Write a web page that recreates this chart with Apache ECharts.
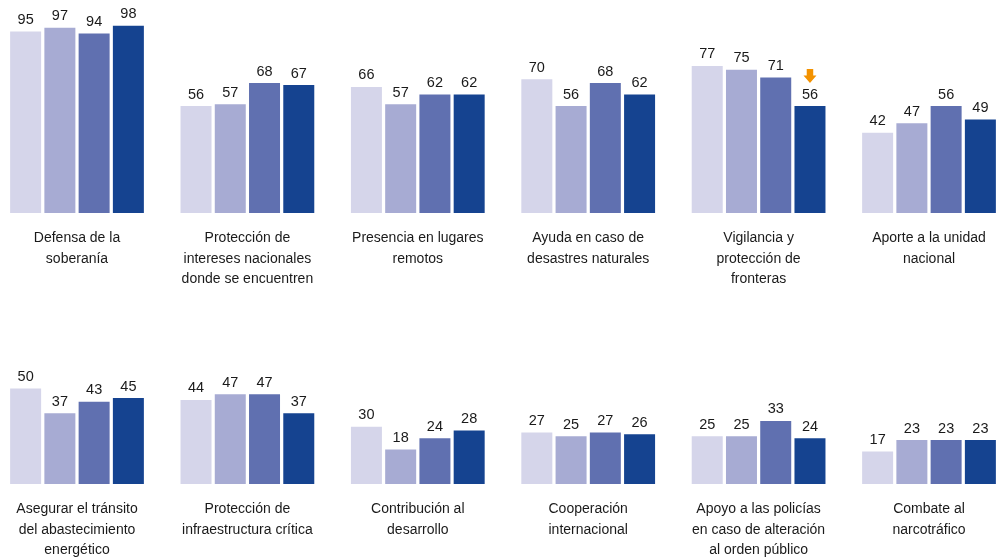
<!DOCTYPE html>
<html>
<head>
<meta charset="utf-8">
<script src="https://cdn.jsdelivr.net/npm/echarts@6/dist/echarts.min.js"></script>
<style>
html,body{margin:0;padding:0;background:#fff;}
#chart{width:996px;height:558px;}
</style>
</head>
<body>
<div id="chart"></div>
<script>
const panelLabels = [
  'Defensa de la\nsoberanía',
  'Protección de\nintereses nacionales\ndonde se encuentren',
  'Presencia en lugares\nremotos',
  'Ayuda en caso de\ndesastres naturales',
  'Vigilancia y\nprotección de\nfronteras',
  'Aporte a la unidad\nnacional',
  'Asegurar el tránsito\ndel abastecimiento\nenergético',
  'Protección de\ninfraestructura crítica',
  'Contribución al\ndesarrollo',
  'Cooperación\ninternacional',
  'Apoyo a las policías\nen caso de alteración\nal orden público',
  'Combate al\nnarcotráfico'
];
const wave1 = [95, 56, 66, 70, 77, 42, 50, 44, 30, 27, 25, 17];
const wave2 = [97, 57, 57, 56, 75, 47, 37, 47, 18, 25, 25, 23];
const wave3 = [94, 68, 62, 68, 71, 56, 43, 47, 24, 27, 33, 23];
const wave4 = [98, 67, 62, 62, 56, 49, 45, 37, 28, 26, 24, 23];
const barSlots = ['a', 'b', 'c', 'd'];
const downArrowPanel = 4;
const downArrowSlot = 3;

const colors = ['#D5D5EA', '#A7ABD3', '#6070B0', '#154390'];
const textColor = '#1a1a1a';
const fontFamily = "'Liberation Sans', Arial, sans-serif";

const grids = [], xAxes = [], yAxes = [], series = [];
panelLabels.forEach((label, i) => {
  const col = i % 6, row = Math.floor(i / 6);
  grids.push({left: 8.5 + 170.4 * col, width: 137, top: row === 0 ? 22 : 293, height: 191,
              containLabel: false, outerBoundsMode: 'none'});
  xAxes.push({
    type: 'category', gridIndex: i, data: barSlots,
    axisLine: {show: false}, axisTick: {show: false}, axisLabel: {show: false},
    name: label, nameLocation: 'middle', nameGap: 15,
    nameTextStyle: {fontSize: 14, lineHeight: 20.5, color: textColor, fontFamily: fontFamily}
  });
  yAxes.push({type: 'value', gridIndex: i, min: 0, max: 100, show: false, splitLine: {show: false}});
  const vals = [wave1[i], wave2[i], wave3[i], wave4[i]];
  const s = {
    type: 'bar', xAxisIndex: i, yAxisIndex: i, barWidth: 31,
    data: vals.map((v, k) => ({value: v, itemStyle: {color: colors[k]}})),
    label: {show: true, position: 'top', distance: 4, fontSize: 14.5, color: textColor, fontFamily: fontFamily},
    silent: true, animation: false
  };
  if (i === downArrowPanel) {
    s.markPoint = {
      silent: true, animation: false,
      symbol: 'path://M3,0 L9,0 L9,6 L12,6 L6,13 L0,6 L3,6 Z',
      symbolSize: [13, 14],
      symbolOffset: [0, -30],
      itemStyle: {color: '#F39200'},
      label: {show: false},
      data: [{coord: [downArrowSlot, vals[downArrowSlot]]}]
    };
  }
  series.push(s);
});

const chart = echarts.init(document.getElementById('chart'), null, {renderer: 'canvas'});
chart.setOption({
  animation: false,
  backgroundColor: '#ffffff',
  textStyle: {fontFamily: fontFamily},
  grid: grids, xAxis: xAxes, yAxis: yAxes, series: series
});
</script>
</body>
</html>
